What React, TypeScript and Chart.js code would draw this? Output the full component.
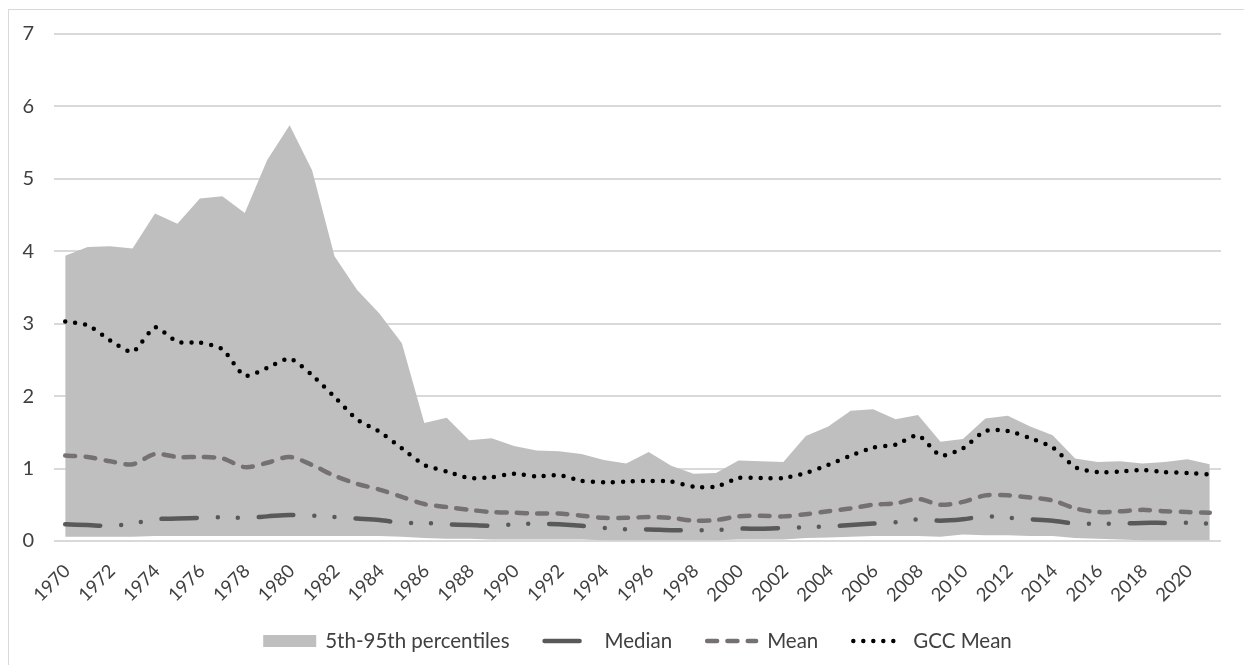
import React, { useEffect, useRef } from 'react';
import { Chart, registerables } from 'chart.js';

Chart.register(...registerables);

const years = [
  '1970', '1971', '1972', '1973', '1974', '1975', '1976', '1977', '1978', '1979',
  '1980', '1981', '1982', '1983', '1984', '1985', '1986', '1987', '1988', '1989',
  '1990', '1991', '1992', '1993', '1994', '1995', '1996', '1997', '1998', '1999',
  '2000', '2001', '2002', '2003', '2004', '2005', '2006', '2007', '2008', '2009',
  '2010', '2011', '2012', '2013', '2014', '2015', '2016', '2017', '2018', '2019',
  '2020', '2021',
];

const p5 = [
  0.06, 0.06, 0.06, 0.06, 0.07, 0.07, 0.07, 0.07, 0.07, 0.07,
  0.07, 0.07, 0.07, 0.07, 0.07, 0.06, 0.04, 0.03, 0.03, 0.02,
  0.02, 0.02, 0.02, 0.02, 0.01, 0.01, 0.01, 0.01, 0.01, 0.01,
  0.02, 0.02, 0.02, 0.04, 0.05, 0.06, 0.07, 0.07, 0.07, 0.06,
  0.09, 0.08, 0.08, 0.07, 0.07, 0.04, 0.03, 0.02, 0.01, 0.01,
  0.01, 0.01,
];

const p95 = [
  3.94, 4.06, 4.07, 4.04, 4.52, 4.38, 4.73, 4.76, 4.53, 5.26,
  5.74, 5.12, 3.93, 3.47, 3.14, 2.73, 1.63, 1.70, 1.39, 1.42,
  1.31, 1.25, 1.24, 1.20, 1.12, 1.07, 1.23, 1.04, 0.93, 0.94,
  1.11, 1.10, 1.09, 1.45, 1.58, 1.80, 1.82, 1.68, 1.74, 1.37,
  1.41, 1.69, 1.73, 1.58, 1.46, 1.14, 1.09, 1.10, 1.07, 1.09,
  1.13, 1.06,
];

const median = [
  0.23, 0.22, 0.21, 0.24, 0.30, 0.31, 0.32, 0.33, 0.32, 0.34,
  0.36, 0.35, 0.33, 0.31, 0.29, 0.25, 0.25, 0.23, 0.22, 0.21,
  0.23, 0.24, 0.23, 0.21, 0.18, 0.16, 0.16, 0.15, 0.15, 0.15,
  0.17, 0.17, 0.18, 0.19, 0.20, 0.22, 0.24, 0.26, 0.30, 0.28,
  0.30, 0.34, 0.32, 0.30, 0.28, 0.24, 0.24, 0.24, 0.25, 0.25,
  0.25, 0.24,
];

const mean = [
  1.18, 1.16, 1.10, 1.06, 1.20, 1.16, 1.16, 1.14, 1.02, 1.08,
  1.16, 1.05, 0.90, 0.79, 0.71, 0.61, 0.51, 0.47, 0.43, 0.40,
  0.39, 0.38, 0.38, 0.35, 0.32, 0.32, 0.33, 0.32, 0.28, 0.29,
  0.34, 0.35, 0.34, 0.37, 0.41, 0.45, 0.50, 0.52, 0.58, 0.50,
  0.54, 0.63, 0.63, 0.60, 0.56, 0.45, 0.40, 0.41, 0.43, 0.41,
  0.40, 0.39,
];

const gccMean = [
  3.03, 2.98, 2.77, 2.61, 2.95, 2.75, 2.74, 2.65, 2.28, 2.39,
  2.52, 2.29, 1.99, 1.68, 1.51, 1.28, 1.05, 0.96, 0.87, 0.88,
  0.93, 0.89, 0.91, 0.83, 0.81, 0.82, 0.83, 0.82, 0.75, 0.75,
  0.87, 0.87, 0.87, 0.94, 1.05, 1.18, 1.29, 1.33, 1.46, 1.18,
  1.28, 1.52, 1.52, 1.42, 1.29, 1.02, 0.95, 0.96, 0.98, 0.95,
  0.94, 0.92,
];

const yMin = 0;
const yMax = 7;
const yStep = 1;

const FONT = 'Lato, "Open Sans", sans-serif';
const TEXT_COLOR = '#404040';

// Rotated x-axis labels (every second year), placed with the category scale's pixels.
const xLabelPlugin = {
  id: 'rotatedYearLabels',
  afterDraw(chart: any) {
    const ctx = chart.ctx;
    const xScale = chart.scales.x;
    ctx.save();
    ctx.font = `18.5px ${FONT}`;
    ctx.fillStyle = TEXT_COLOR;
    ctx.textAlign = 'right';
    ctx.textBaseline = 'middle';
    years.forEach((label, i) => {
      if (i % 2 !== 0) return;
      const x = xScale.getPixelForTick(i) + 2;
      const y = chart.chartArea.bottom + 27;
      ctx.save();
      ctx.translate(x, y);
      ctx.rotate(-Math.PI / 4);
      ctx.fillText(label, 0, 0);
      ctx.restore();
    });
    ctx.restore();
  },
};

const legendPlugin = {
  id: 'excelLegend',
  afterDraw(chart: any) {
    const ctx = chart.ctx;
    const items = chart.data.datasets.filter((d: any) => d.legendKind);
    ctx.save();
    ctx.font = `20.5px ${FONT}`;
    const sym = 53;
    const gap = 9;
    const spacing = 33;
    const widths = items.map((d: any) => sym + gap + ctx.measureText(d.label).width);
    const total = widths.reduce((a: number, b: number) => a + b, 0) + spacing * (items.length - 1);
    let x = (chart.chartArea.left + chart.chartArea.right) / 2 - total / 2;
    const y = chart.chartArea.bottom + 100;
    items.forEach((d: any, i: number) => {
      if (d.legendKind === 'area') {
        ctx.fillStyle = d.backgroundColor;
        ctx.fillRect(x, y - 6, sym, 12);
      } else {
        ctx.beginPath();
        ctx.setLineDash(d.borderDash || []);
        ctx.lineCap = d.borderCapStyle || 'butt';
        ctx.lineWidth = d.borderWidth;
        ctx.strokeStyle = d.borderColor;
        ctx.moveTo(x + 2, y);
        ctx.lineTo(x + sym - 2, y);
        ctx.stroke();
        ctx.setLineDash([]);
      }
      ctx.fillStyle = TEXT_COLOR;
      ctx.textBaseline = 'middle';
      ctx.textAlign = 'left';
      ctx.fillText(d.label, x + sym + gap, y);
      x += widths[i] + spacing;
    });
    ctx.restore();
  },
};

export default function App() {
  const canvasRef = useRef<HTMLCanvasElement | null>(null);

  useEffect(() => {
    const canvas = canvasRef.current;
    if (!canvas) return;
    const chart = new Chart(canvas, {
      type: 'line',
      data: {
        labels: years,
        datasets: [
          {
            label: '5th percentile',
            data: p5,
            borderWidth: 0,
            pointRadius: 0,
            fill: false,
            tension: 0,
            order: 10,
            borderColor: 'rgba(0,0,0,0)',
          } as any,
          {
            label: '5th-95th percentiles',
            legendKind: 'area',
            data: p95,
            borderWidth: 0,
            pointRadius: 0,
            fill: '-1',
            tension: 0,
            order: 9,
            backgroundColor: '#bfbfbf',
            borderColor: 'rgba(0,0,0,0)',
          } as any,
          {
            label: 'Median',
            legendKind: 'line',
            data: median,
            borderColor: '#595959',
            borderWidth: 4.5,
            borderDash: [35, 21, 0, 20, 0, 21],
            borderCapStyle: 'round',
            pointRadius: 0,
            fill: false,
            tension: 0.3,
            order: 3,
          } as any,
          {
            label: 'Mean',
            legendKind: 'line',
            data: mean,
            borderColor: '#767171',
            borderWidth: 4.5,
            borderDash: [10, 10.3],
            borderCapStyle: 'round',
            pointRadius: 0,
            fill: false,
            tension: 0.3,
            order: 2,
          } as any,
          {
            label: 'GCC Mean',
            legendKind: 'line',
            data: gccMean,
            borderColor: '#000000',
            borderWidth: 4.5,
            borderDash: [0, 10],
            borderCapStyle: 'round',
            pointRadius: 0,
            fill: false,
            tension: 0.2,
            order: 1,
          } as any,
        ],
      },
      options: {
        animation: false,
        responsive: false,
        maintainAspectRatio: false,
        layout: { padding: { left: 0, right: 23, top: 24, bottom: 34 } },
        plugins: {
          legend: { display: false },
          tooltip: { enabled: false },
        },
        scales: {
          x: {
            type: 'category',
            offset: true,
            grid: { display: false, drawTicks: false },
            border: { display: false },
            afterFit: (scale: any) => {
              scale.height = 90;
            },
            ticks: { display: false, autoSkip: false },
          },
          y: {
            type: 'linear',
            min: yMin,
            max: yMax,
            afterFit: (scale: any) => {
              scale.width = 45;
            },
            grid: {
              color: '#d9d9d9',
              lineWidth: 2,
              drawTicks: true,
              tickLength: 18,
              tickColor: 'rgba(0,0,0,0)',
            },
            border: { display: false },
            ticks: {
              stepSize: yStep,
              padding: 2,
              color: TEXT_COLOR,
              font: { family: FONT, size: 20 },
            },
          },
        },
      },
      plugins: [xLabelPlugin, legendPlugin],
    });
    return () => chart.destroy();
  }, []);

  return (
    <div
      style={{
        position: 'absolute',
        left: 0,
        top: 0,
        width: 1244,
        height: 665,
        overflow: 'hidden',
        background: '#ffffff',
      }}
    >
      <div
        style={{
          position: 'absolute',
          left: 8,
          top: 9,
          width: 1300,
          height: 700,
          border: '1px solid #d9d9d9',
          boxSizing: 'border-box',
        }}
      />
      <canvas
        ref={canvasRef}
        width={1235}
        height={655}
        style={{ position: 'absolute', left: 9, top: 10, width: 1235, height: 655 }}
      />
    </div>
  );
}
